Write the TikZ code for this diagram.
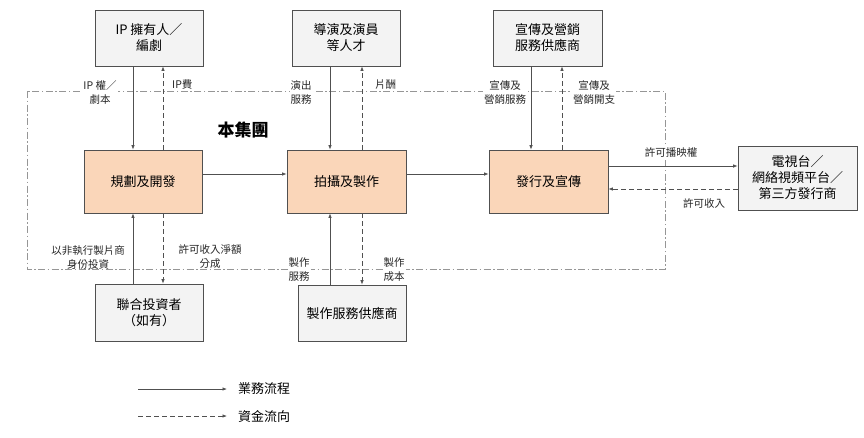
\documentclass[tikz,border=0pt]{standalone}
\usepackage{fontspec}
\setmainfont{Noto Sans CJK TC}
\usetikzlibrary{arrows.meta}
\definecolor{org}{RGB}{250,214,185}
\definecolor{gbox}{RGB}{243,243,243}
\definecolor{ln}{RGB}{80,80,80}
\definecolor{bd}{RGB}{150,150,150}
\begin{document}
\begin{tikzpicture}[x=1pt,y=-1pt,
  gbx/.style={draw=ln, fill=gbox, line width=0.8pt, minimum width=108pt, minimum height=56pt, align=center, inner sep=0pt, font=\fontsize{13}{16}\selectfont},
  core/.style={draw=ln, fill=org, line width=0.8pt, minimum width=118pt, minimum height=63pt, align=center, inner sep=0pt, font=\fontsize{13}{16}\selectfont},
  lab/.style={align=center, inner sep=1pt, fill=white, text=black!85, font=\fontsize{10.5}{14}\selectfont},
  flow/.style={draw=ln, line width=0.7pt, -{Latex[length=4.5pt,width=3.5pt]}},
  money/.style={flow, dash pattern=on 5pt off 3pt},
  bound/.style={draw=bd, line width=0.7pt, dash pattern=on 7pt off 2.5pt on 1.5pt off 2.5pt}]
\useasboundingbox (0,0) rectangle (864,437);
\fill[white] (0,0) rectangle (864,437);
% boundary
\draw[bound] (27,91) rectangle (665,269);
% boxes
\node[gbx] (ip) at (149,38) {IP 擁有人／\\編劇};
\node[gbx] (tal) at (346,38) {導演及演員\\等人才};
\node[gbx, minimum width=109pt] (mkt) at (547.5,38) {宣傳及營銷\\服務供應商};
\node[core] (plan) at (143,181.5) {規劃及開發};
\node[core, minimum width=119pt] (shoot) at (346.5,181.5) {拍攝及製作};
\node[core, minimum width=119pt] (dist) at (548.5,181.5) {發行及宣傳};
\node[gbx, minimum width=119pt, minimum height=64pt] (tv) at (797.5,178) {電視台／\\網絡視頻平台／\\第三方發行商};
\node[gbx, minimum height=57pt] (inv) at (149,312.5) {聯合投資者\\（如有）};
\node[gbx] (svc) at (352,313) {製作服務供應商};
\node[font=\fontsize{17}{20}\selectfont\bfseries] (grp) at (243,130) {本集團};
% column coordinates
\coordinate (xa) at (133,0);
\coordinate (xb) at (163,0);
\coordinate (xc) at (330,0);
\coordinate (xd) at (362,0);
\coordinate (xe) at (531,0);
\coordinate (xf) at (562,0);
\coordinate (ya) at (0,174);
\coordinate (yb) at (0,166);
\coordinate (yc) at (0,189);
% top arrows
\draw[flow] (xa |- ip.south) -- (xa |- plan.north);
\draw[money] (xb |- plan.north) -- (xb |- ip.south);
\draw[flow] (xc |- tal.south) -- (xc |- shoot.north);
\draw[money] (xd |- shoot.north) -- (xd |- tal.south);
\draw[flow] (xe |- mkt.south) -- (xe |- dist.north);
\draw[money] (xf |- dist.north) -- (xf |- mkt.south);
% horizontal
\draw[flow] (plan.east |- ya) -- (shoot.west |- ya);
\draw[flow] (shoot.east |- ya) -- (dist.west |- ya);
\draw[flow] (dist.east |- yb) -- (tv.west |- yb);
\draw[money] (tv.west |- yc) -- (dist.east |- yc);
% bottom arrows
\draw[flow] (xa |- inv.north) -- (xa |- plan.south);
\draw[money] (xb |- plan.south) -- (xb |- inv.north);
\draw[flow] (xc |- svc.north) -- (xc |- shoot.south);
\draw[money] (xd |- shoot.south) -- (xd |- svc.north);
% labels
\node[lab] (l1) at (100,92) {IP 權／\\劇本};
\node[lab, anchor=west] (l2) at (171,85) {IP費};
\node[lab] (l3) at (301,92) {演出\\服務};
\node[lab, anchor=west] (l4) at (374,85) {片酬};
\node[lab] (l5) at (505,92) {宣傳及\\營銷服務};
\node[lab] (l6) at (594,92) {宣傳及\\營銷開支};
\node[lab] (l7) at (671,152) {許可播映權};
\node[lab] (l8) at (704,203) {許可收入};
\node[lab, fill=none] (l9) at (88,257) {以非執行製片商\\身份投資};
\node[lab, fill=none] (l10) at (210,257) {許可收入淨額\\分成};
\node[lab] (l11) at (299,270) {製作\\服務};
\node[lab] (l12) at (394,270) {製作\\成本};
% legend
\node[anchor=west, inner sep=0pt, font=\fontsize{13}{16}\selectfont] (lg1) at (238,389) {業務流程};
\node[anchor=west, inner sep=0pt, font=\fontsize{13}{16}\selectfont] (lg2) at (238,416) {資金流向};
\coordinate (s1) at (138,389);
\coordinate (s2) at (138,416);
\draw[flow] (s1) -- ([xshift=-11pt]lg1.west);
\draw[money] (s2) -- ([xshift=-11pt]lg2.west);
\end{tikzpicture}
\end{document}
